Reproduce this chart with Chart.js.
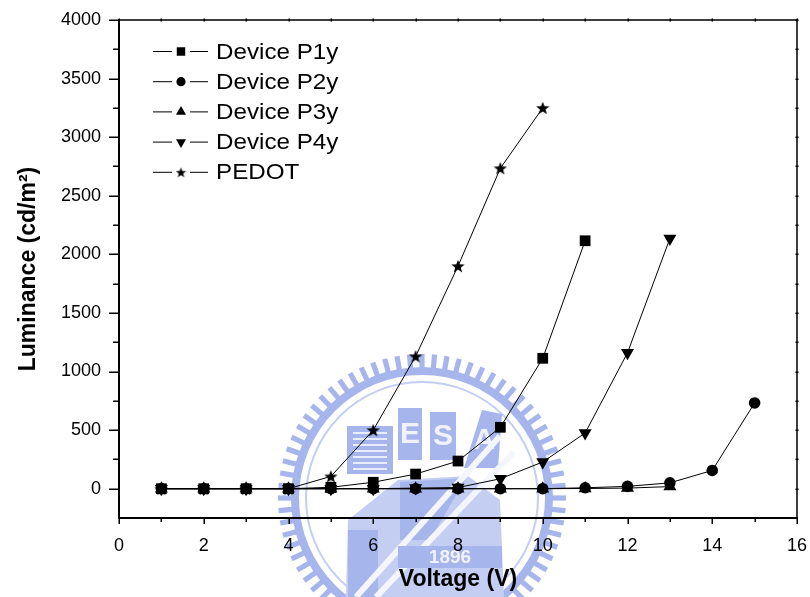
<!DOCTYPE html>
<html>
<head>
<meta charset="utf-8">
<script src="https://cdn.jsdelivr.net/npm/chart.js@4.4.0/dist/chart.umd.min.js"></script>
<style>
  html, body { margin: 0; padding: 0; background: #fff; }
  canvas { display: block; }
</style>
</head>
<body>
<canvas id="c" width="810" height="597"></canvas>
<script>
// Luminance vs. voltage for the four devices and the PEDOT reference
const voltage = [1, 2, 3, 4, 5, 6, 7, 8, 9, 10, 11, 12, 13, 14, 15];
const seriesNames = ['Device P1y', 'Device P2y', 'Device P3y', 'Device P4y', 'PEDOT'];
const lumP1y   = [0, 0, 0, 0, 12, 55, 125, 236, 524, 1113, 2116];
const lumP2y   = [0, 0, 0, 0, 0, 0, 0, 0, 0, 0, 8, 20, 50, 156, 732];
const lumP3y   = [0, 0, 0, 0, 0, 0, 0, 0, 0, 0, 2, 5, 18];
const lumP4y   = [0, 0, 0, 0, 0, 0, 5, 10, 85, 228, 475, 1160, 2135];
const lumPEDOT = [0, 0, 0, 0, 105, 500, 1130, 1900, 2735, 3250];
const xTickValues = [0, 2, 4, 6, 8, 10, 12, 14, 16];
const yTickValues = [0, 500, 1000, 1500, 2000, 2500, 3000, 3500, 4000];

const FONT = '"Liberation Sans", Arial, sans-serif';
const EMBLEM_BLUE = '#a6b5eb';
const EMBLEM_PALE = '#c4cef3';

// filled five-point star used as a point marker
function starCanvas(size) {
  const c = document.createElement('canvas');
  c.width = c.height = size;
  const g = c.getContext('2d');
  const R = size / 2, r = R * 0.42;
  const cx = size / 2, cy = size / 2 + 0.095 * R;
  g.beginPath();
  for (let i = 0; i < 10; i++) {
    const ang = -Math.PI / 2 + i * Math.PI / 5;
    const rad = i % 2 ? r : R;
    g.lineTo(cx + rad * Math.cos(ang), cy + rad * Math.sin(ang));
  }
  g.closePath();
  g.fillStyle = '#000';
  g.fill();
  return c;
}

const plotMarkers = [
  { style: 'rect', radius: 7.6, rotation: 0 },
  { style: 'circle', radius: 5.8, rotation: 0 },
  { style: 'triangle', radius: 7.5, rotation: 0 },
  { style: 'triangle', radius: 7.5, rotation: 180 },
  { style: starCanvas(14), radius: 7, rotation: 0 }
];
const legendMarkers = [
  { style: 'rect', radius: 6.0, rotation: 0 },
  { style: 'circle', radius: 4.6, rotation: 0 },
  { style: 'triangle', radius: 5.8, rotation: 0 },
  { style: 'triangle', radius: 5.8, rotation: 180 },
  { style: starCanvas(11), radius: 5.5, rotation: 0 }
];

const seriesValues = [lumP1y, lumP2y, lumP3y, lumP4y, lumPEDOT];

const datasets = seriesValues.map((vals, i) => ({
  label: seriesNames[i],
  data: vals.map((v, k) => ({ x: voltage[k], y: v })),
  borderColor: '#000',
  borderWidth: 1,
  backgroundColor: '#000',
  pointStyle: plotMarkers[i].style,
  pointRadius: plotMarkers[i].radius,
  pointRotation: plotMarkers[i].rotation,
  pointBackgroundColor: '#000',
  pointBorderColor: '#000',
  pointBorderWidth: 0,
  tension: 0,
  fill: false
}));

// faint university emblem printed behind the plot
const emblem = {
  id: 'emblem',
  beforeDraw(chart) {
    const ctx = chart.ctx;
    const cx = 422, cy = 498;
    ctx.save();
    ctx.fillStyle = EMBLEM_BLUE;
    // toothed outer ring
    ctx.beginPath();
    ctx.arc(cx, cy, 131, 0, Math.PI * 2);
    ctx.arc(cx, cy, 123, 0, Math.PI * 2, true);
    ctx.fill();
    const teeth = 72;
    for (let k = 0; k < teeth; k++) {
      ctx.save();
      ctx.translate(cx, cy);
      ctx.rotate(k * Math.PI * 2 / teeth);
      ctx.fillRect(130, -2.6, 14, 5.2);
      ctx.restore();
    }
    // thin inner ring
    ctx.strokeStyle = EMBLEM_PALE;
    ctx.lineWidth = 2;
    ctx.beginPath();
    ctx.arc(cx, cy, 116, 0, Math.PI * 2);
    ctx.stroke();

    // striped building
    ctx.fillStyle = EMBLEM_BLUE;
    ctx.fillRect(347, 426, 46, 48);
    ctx.fillStyle = '#e8ecfb';
    for (let yy = 432; yy < 472; yy += 6) ctx.fillRect(353, yy, 34, 2);
    // lettered blocks
    ctx.fillStyle = EMBLEM_BLUE;
    ctx.fillRect(398, 408, 24, 52);
    ctx.fillRect(430, 412, 26, 48);
    ctx.beginPath();
    ctx.moveTo(464, 468); ctx.lineTo(482, 410); ctx.lineTo(502, 414); ctx.lineTo(498, 468);
    ctx.closePath();
    ctx.fill();
    ctx.fillStyle = '#f0f3fd';
    ctx.font = 'bold 30px ' + FONT;
    ctx.textAlign = 'center';
    ctx.textBaseline = 'middle';
    ctx.fillText('E', 410, 435);
    ctx.fillText('S', 443, 437);
    ctx.fillText('A', 484, 441);

    // lower landscape with diagonal light bands
    ctx.fillStyle = EMBLEM_PALE;
    ctx.beginPath();
    ctx.moveTo(346, 597);
    ctx.lineTo(348, 520);
    ctx.lineTo(398, 480);
    ctx.lineTo(468, 476);
    ctx.lineTo(500, 500);
    ctx.lineTo(504, 597);
    ctx.closePath();
    ctx.fill();
    ctx.fillStyle = EMBLEM_BLUE;
    ctx.fillRect(348, 530, 30, 67);
    ctx.beginPath();
    ctx.moveTo(400, 540); ctx.lineTo(400, 482); ctx.lineTo(466, 478); ctx.lineTo(430, 540);
    ctx.closePath();
    ctx.fill();
    ctx.strokeStyle = '#f4f6fd';
    ctx.lineWidth = 6;
    ctx.beginPath();
    ctx.moveTo(356, 597); ctx.lineTo(500, 436);
    ctx.moveTo(376, 597); ctx.lineTo(514, 452);
    ctx.stroke();

    // year banner
    ctx.fillStyle = EMBLEM_BLUE;
    ctx.fillRect(398, 546, 104, 22);
    ctx.fillStyle = '#f0f3fd';
    ctx.font = 'bold 19px ' + FONT;
    ctx.fillText('1896', 450, 558);
    ctx.restore();
  }
};

// frame: top/right edges plus major/minor tick marks on all four sides
const frameTicks = {
  id: 'frameTicks',
  afterDraw(chart) {
    const { ctx, chartArea: a, scales: { x, y } } = chart;
    ctx.save();
    ctx.strokeStyle = '#000';
    ctx.lineWidth = 1.5;
    ctx.beginPath();
    ctx.moveTo(a.left, a.top);
    ctx.lineTo(a.right, a.top);
    ctx.lineTo(a.right, a.bottom);
    ctx.stroke();

    const xStep = (xTickValues[1] - xTickValues[0]) / 2;
    for (let v = x.min; v <= x.max + 1e-9; v += xStep) {
      const px = Math.round(x.getPixelForValue(v)) + 0.25;
      const major = xTickValues.includes(v);
      ctx.lineWidth = 1.5;
      ctx.beginPath();
      ctx.moveTo(px, a.bottom);
      ctx.lineTo(px, a.bottom + (major ? 6 : 4));
      ctx.stroke();
      ctx.beginPath();
      ctx.moveTo(px, a.top - 1.5);
      ctx.lineTo(px, a.top + 1.5);
      ctx.stroke();
    }
    const yStep = (yTickValues[1] - yTickValues[0]) / 2;
    for (let v = yTickValues[0]; v <= y.max + 1e-9; v += yStep) {
      const py = Math.round(y.getPixelForValue(v)) + 0.25;
      const major = yTickValues.includes(v);
      ctx.lineWidth = 1.5;
      ctx.beginPath();
      ctx.moveTo(a.left, py);
      ctx.lineTo(a.left - (major ? 10 : 6), py);
      ctx.stroke();
      ctx.beginPath();
      ctx.moveTo(a.right - 1.5, py);
      ctx.lineTo(a.right + 1.5, py);
      ctx.stroke();
    }
    ctx.restore();
  }
};

// inset legend: line - marker - line, then the series name
const insetLegend = {
  id: 'insetLegend',
  afterDraw(chart) {
    const { ctx, chartArea: a } = chart;
    ctx.save();
    chart.data.datasets.forEach((ds, i) => {
      const yy = a.top + 31.5 + i * 30.2;
      const x0 = a.left + 34;
      ctx.strokeStyle = '#000';
      ctx.lineWidth = 1;
      ctx.beginPath();
      ctx.moveTo(x0, yy); ctx.lineTo(x0 + 19, yy);
      ctx.moveTo(x0 + 37, yy); ctx.lineTo(x0 + 55, yy);
      ctx.stroke();
      ctx.fillStyle = '#000';
      const m = legendMarkers[i];
      Chart.helpers.drawPoint(ctx, {
        pointStyle: m.style, radius: m.radius, rotation: m.rotation, borderWidth: 0
      }, x0 + 28, yy);
      ctx.save();
      ctx.translate(x0 + 63, yy + 1);
      ctx.scale(1.1, 1);
      ctx.fillStyle = '#000';
      ctx.font = '22px ' + FONT;
      ctx.textBaseline = 'middle';
      ctx.textAlign = 'left';
      ctx.fillText(ds.label, 0, 0);
      ctx.restore();
    });
    ctx.restore();
  }
};

new Chart(document.getElementById('c'), {
  type: 'line',
  data: { datasets },
  options: {
    responsive: false,
    devicePixelRatio: 1,
    animation: false,
    layout: { padding: { left: 0, right: 13, top: 20, bottom: 0 } },
    plugins: { legend: { display: false }, tooltip: { enabled: false } },
    scales: {
      x: {
        type: 'linear',
        position: 'bottom',
        min: 0,
        max: 16,
        afterBuildTicks(scale) { scale.ticks = xTickValues.map(v => ({ value: v })); },
        afterFit(scale) { scale.height = 79; scale.paddingLeft = 0; scale.paddingRight = 0; },
        grid: { display: false, drawTicks: false },
        border: { display: true, color: '#000', width: 2 },
        ticks: {
          color: '#000',
          padding: 17,
          maxRotation: 0,
          autoSkip: false,
          font: { family: FONT, size: 18 },
          callback: v => String(v)
        },
        title: {
          display: true,
          text: 'Voltage (V)',
          color: '#000',
          font: { family: FONT, size: 23, weight: 'bold' },
          padding: { top: 0, bottom: 4 }
        }
      },
      y: {
        type: 'linear',
        min: -250,
        max: 4000,
        afterBuildTicks(scale) { scale.ticks = yTickValues.map(v => ({ value: v })); },
        afterFit(scale) { scale.width = 119; scale.paddingTop = 0; scale.paddingBottom = 0; },
        grid: { display: false, drawTicks: false },
        border: { display: true, color: '#000', width: 2 },
        ticks: {
          color: '#000',
          padding: 18,
          autoSkip: false,
          font: { family: FONT, size: 18 },
          callback: v => String(v)
        },
        title: {
          display: true,
          text: 'Luminance (cd/m²)',
          color: '#000',
          font: { family: FONT, size: 23, weight: 'bold' },
          padding: { top: 15, bottom: 0 }
        }
      }
    }
  },
  plugins: [emblem, frameTicks, insetLegend]
});
</script>
</body>
</html>
